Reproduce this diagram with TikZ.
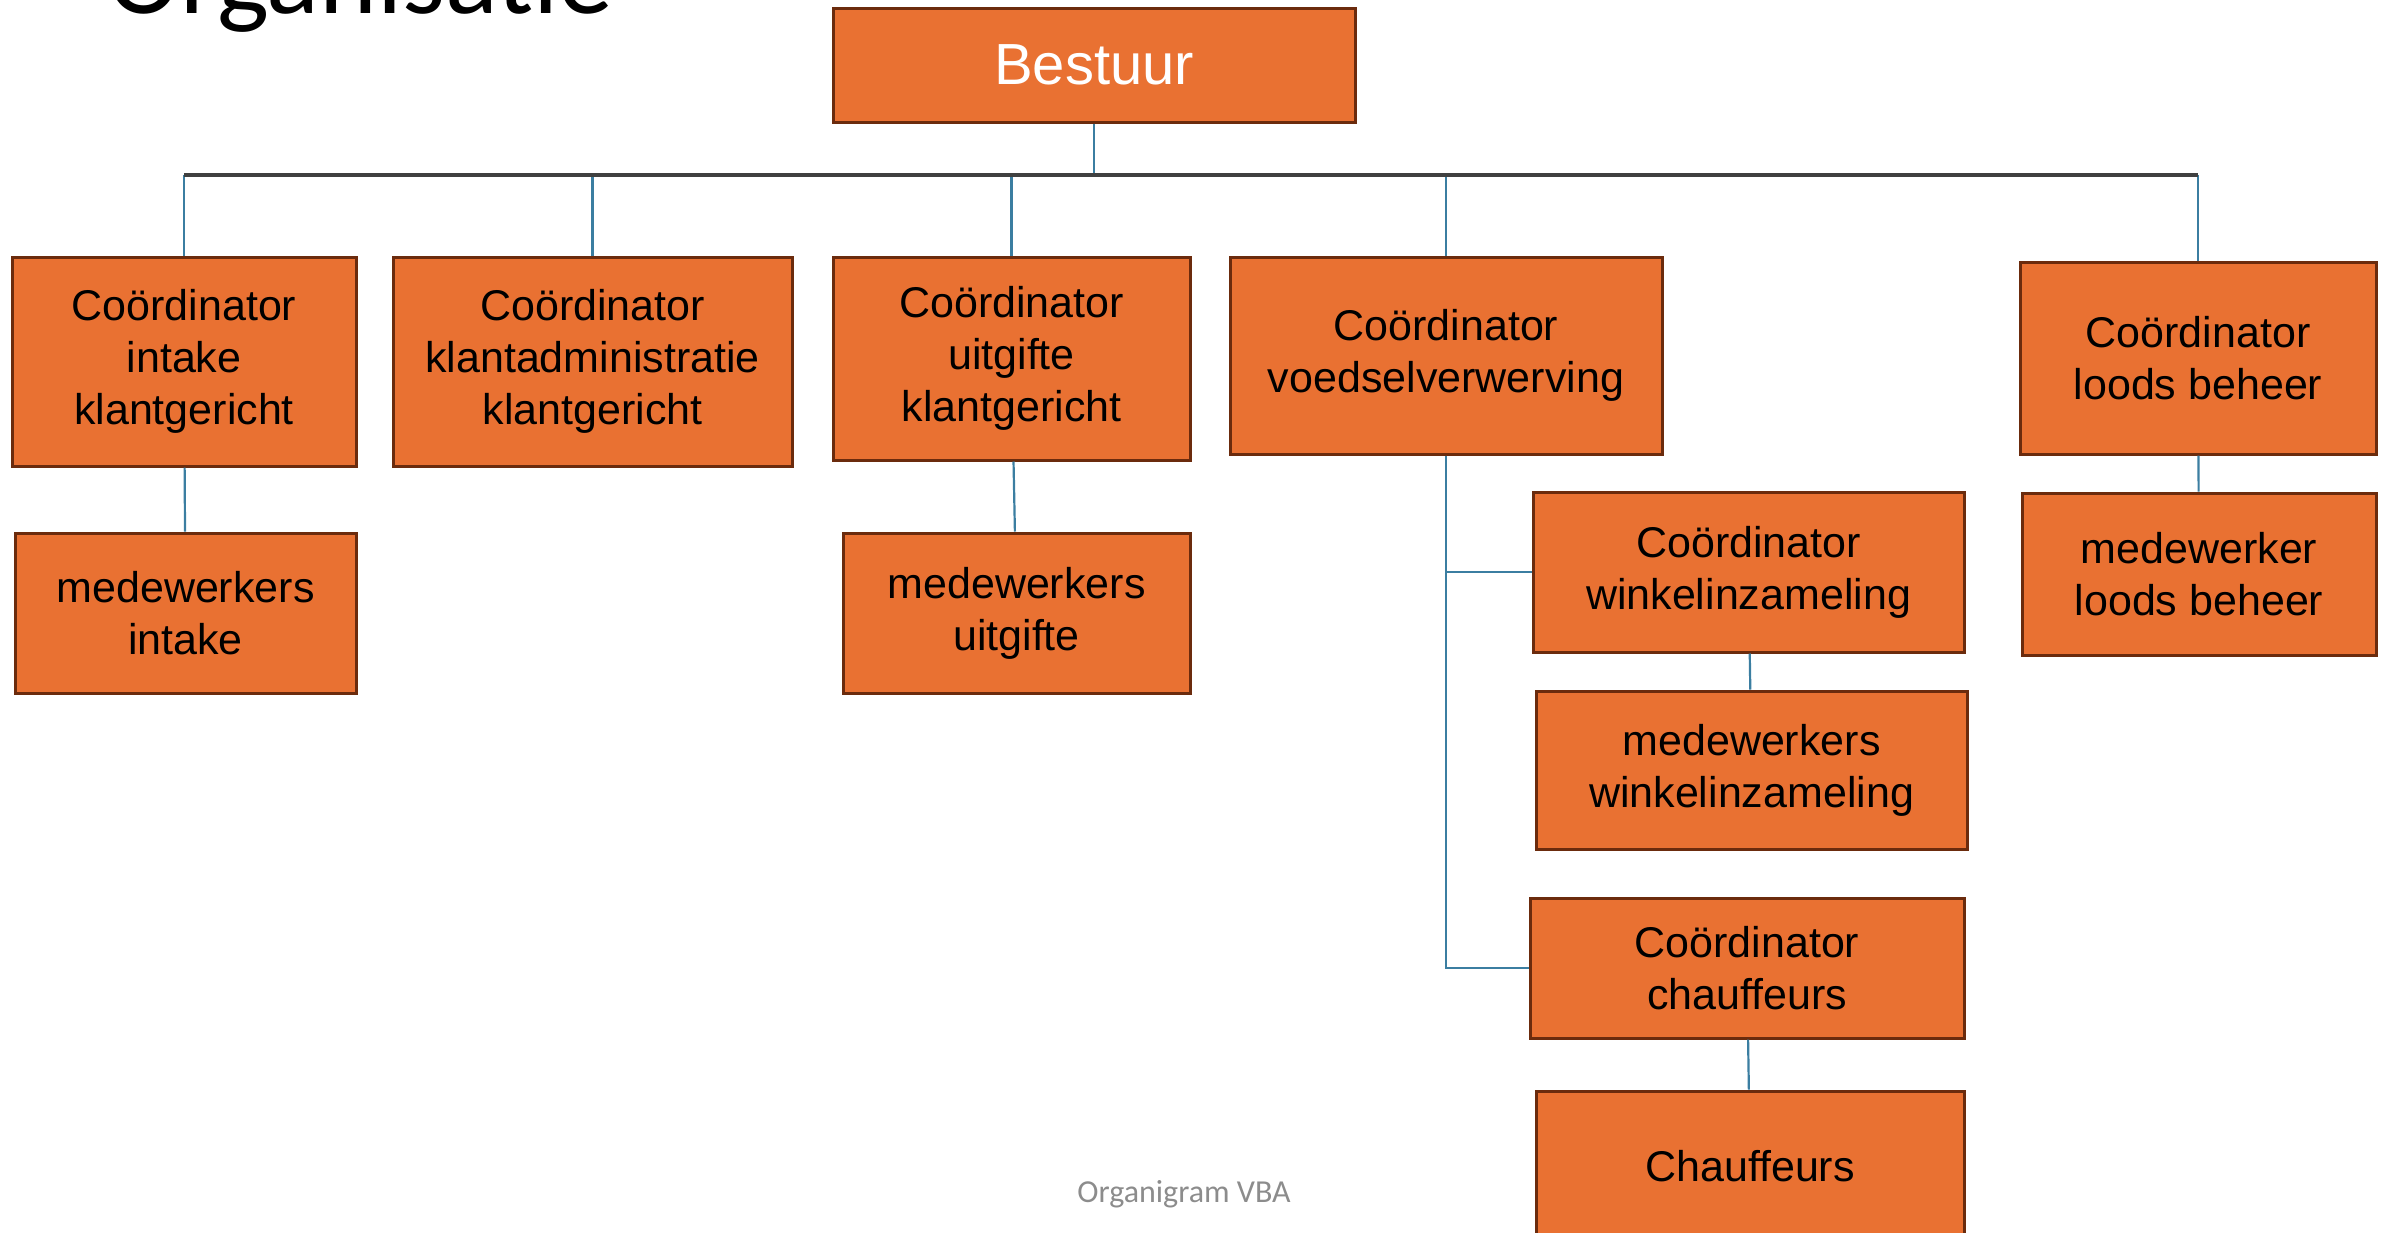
\documentclass[tikz,border=0pt]{standalone}
\usepackage{fontspec}
\setmainfont{Liberation Sans}
\newfontfamily\titlefont{Carlito}
\definecolor{boxorange}{HTML}{E97132}
\definecolor{boxedge}{HTML}{6B2B0D}
\definecolor{linkblue}{HTML}{3B7EA1}
\definecolor{busgray}{HTML}{404040}
\definecolor{footgray}{HTML}{8C8C8C}
\tikzset{
    box/.style={draw=boxedge, line width=1.5pt, fill=boxorange, align=center,
        inner sep=2pt, font=\fontsize{21.5}{26}\selectfont},
    link/.style={draw=linkblue, line width=1.1pt},
    busline/.style={draw=busgray, line width=1.6pt}
}
\begin{document}
\begin{tikzpicture}[x=0.5pt, y=-0.5pt]
        \useasboundingbox (0, 0) rectangle (2387, 1232);
        \clip (0, 0) rectangle (2387, 1232);

        \draw (107, 13) node[anchor=base west, inner sep=0pt, font=\titlefont\fontsize{55}{60}\selectfont] (title) {Organisatie};
        \draw (1184, 1194) node[font=\titlefont\fontsize{16}{19}\selectfont, text=footgray] (footer) {Organigram VBA};

        \draw (1094, 65) node[box, minimum width=261pt, minimum height=57pt, text=white, font=\fontsize{29}{34}\selectfont] (bestuur) {Bestuur};

        \draw (184, 361.5) node[box, minimum width=172pt, minimum height=104.5pt] (cintake) {Coördinator\\intake\\klantgericht};
        \draw (592.5, 361.5) node[box, minimum width=199.5pt, minimum height=104.5pt] (cklant) {Coördinator\\klantadministratie\\klantgericht};
        \draw (1011.5, 358.5) node[box, minimum width=178.5pt, minimum height=101.5pt] (cuitgifte) {Coördinator\\uitgifte\\klantgericht};
        \draw (1446, 355.5) node[box, minimum width=216pt, minimum height=98.5pt] (cvoedsel) {Coördinator\\voedselverwerving};
        \draw (2198, 358) node[box, minimum width=178pt, minimum height=96pt] (cloods) {Coördinator\\loods beheer};

        \draw (185.5, 613) node[box, minimum width=170.5pt, minimum height=80pt] (mintake) {medewerkers\\intake};
        \draw (1016.5, 613) node[box, minimum width=173.5pt, minimum height=80pt] (muitgifte) {medewerkers\\uitgifte};
        \draw (2199, 574) node[box, minimum width=177pt, minimum height=81pt] (mloods) {medewerker\\loods beheer};

        \draw (1748.5, 572) node[box, minimum width=215.5pt, minimum height=80pt] (cwinkel) {Coördinator\\winkelinzameling};
        \draw (1751.5, 770) node[box, minimum width=215.5pt, minimum height=79pt] (mwinkel) {medewerkers\\winkelinzameling};
        \draw (1747, 968) node[box, minimum width=217pt, minimum height=70pt] (cchauf) {Coördinator\\chauffeurs};
        \draw (1750, 1166) node[box, minimum width=214pt, minimum height=75pt] (chauf) {Chauffeurs};

        \coordinate (bus) at (1094, 175);
        \draw[link] (bestuur.south) -- (bus);
        \foreach \n in {cintake, cklant, cuitgifte, cvoedsel, cloods}
            \draw[link] (\n.north) -- (\n.north |- bus);
        \draw[busline] (cintake.north |- bus) -- (cloods.north |- bus);

        \draw[link] (cintake) -- (mintake);
        \draw[link] (cuitgifte) -- (muitgifte);
        \draw[link] (cloods) -- (mloods);
        \draw[link] (cvoedsel.south) |- (cwinkel.west);
        \draw[link] (cvoedsel.south) |- (cchauf.west);
        \draw[link] (cwinkel) -- (mwinkel);
        \draw[link] (cchauf) -- (chauf);
    \end{tikzpicture}
\end{document}
